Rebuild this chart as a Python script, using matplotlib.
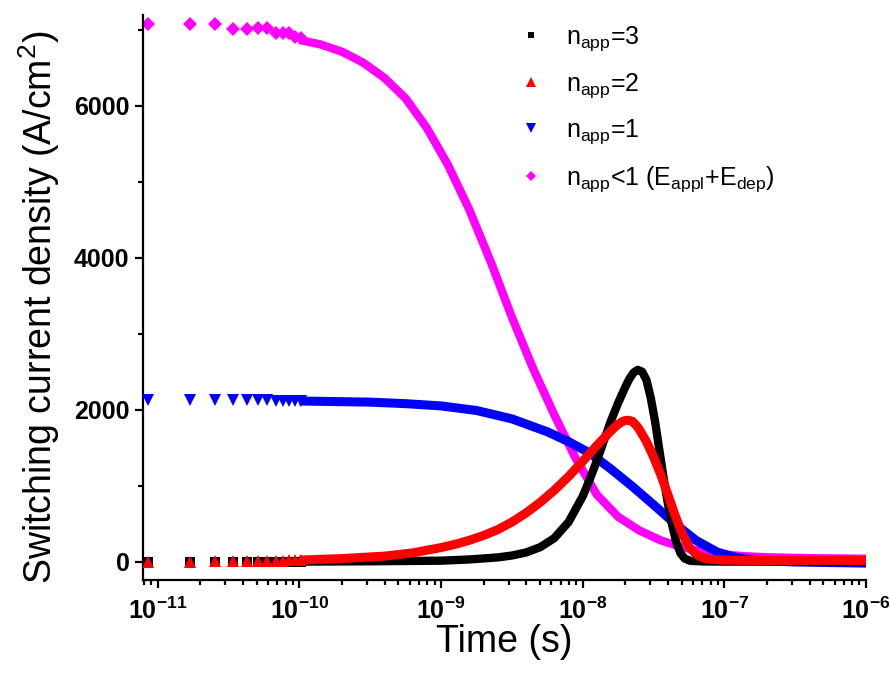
import math
import matplotlib
matplotlib.use("Agg")
import matplotlib.pyplot as plt
from matplotlib.lines import Line2D
from matplotlib.ticker import FixedLocator, FuncFormatter, NullFormatter

plt.rcParams['font.family'] = ['Liberation Sans', 'DejaVu Sans']
plt.rcParams['mathtext.fontset'] = 'custom'
plt.rcParams['mathtext.rm'] = 'Liberation Sans'
plt.rcParams['mathtext.it'] = 'Liberation Sans:italic'
plt.rcParams['mathtext.bf'] = 'Liberation Sans:bold'

# ------------------------------------------------------------------
# Data
# ------------------------------------------------------------------
# first simulation samples (drawn as separate markers)
t_early = [8.5e-12, 1.7e-11, 2.55e-11, 3.4e-11, 4.25e-11, 5.1e-11,
           5.95e-11, 6.8e-11, 7.65e-11, 8.5e-11, 9.35e-11, 1.02e-10]
black_early = [0, 0, 0, 0, 0, 0, 0, 0, 0, 0, 0, 0]
red_early = [0, 1, 2, 4, 6, 8, 10, 12, 14, 16, 18, 20]
blue_early = [2125, 2125, 2125, 2125, 2124, 2123, 2122, 2121, 2120, 2119, 2118, 2117]
mag_early = [7080, 7085, 7085, 7015, 7015, 7025, 7025, 6960, 6955, 6955, 6905, 6900]

# dense part (markers merge into a band)
t_black = [1.0e-10, 3.16e-10, 1.0e-9, 1.58e-9, 2.51e-9, 3.16e-9, 3.98e-9, 5.01e-9,
           6.31e-9, 7.94e-9, 1.0e-8, 1.12e-8, 1.26e-8, 1.41e-8, 1.58e-8, 1.78e-8,
           2.0e-8, 2.14e-8, 2.29e-8, 2.45e-8, 2.63e-8, 2.82e-8, 3.02e-8, 3.24e-8,
           3.47e-8, 3.72e-8, 3.98e-8, 4.27e-8, 4.57e-8, 4.9e-8, 5.25e-8, 5.75e-8,
           7.08e-8, 1.0e-7, 1.0e-6]
black = [0, 4, 12, 28, 55, 80, 120, 190, 310, 520, 860, 1080, 1330, 1590, 1850,
         2090, 2300, 2410, 2490, 2525, 2500, 2390, 2160, 1850, 1480, 1110, 780, 490,
         260, 110, 40, 10, 2, 0, 0]

t_red = [1.0e-10, 2.0e-10, 3.98e-10, 6.31e-10, 1.0e-9, 1.26e-9, 1.58e-9, 2.0e-9,
         2.51e-9, 3.16e-9, 3.98e-9, 5.01e-9, 6.31e-9, 7.94e-9, 1.0e-8, 1.26e-8,
         1.58e-8, 1.78e-8, 1.91e-8, 2.0e-8, 2.09e-8, 2.24e-8, 2.4e-8, 2.51e-8,
         2.82e-8, 3.16e-8, 3.55e-8, 3.98e-8, 4.47e-8, 5.01e-8, 5.62e-8, 6.31e-8,
         7.08e-8, 7.94e-8, 1.0e-7, 1.26e-7, 1.0e-6]
red = [20, 40, 72, 115, 185, 228, 280, 345, 420, 520, 640, 780, 940, 1120, 1320,
       1530, 1720, 1810, 1845, 1858, 1862, 1848, 1790, 1740, 1580, 1380, 1150, 890,
       620, 380, 200, 95, 48, 30, 20, 16, 15]

t_blue = [1.0e-10, 3.16e-10, 5.62e-10, 1.0e-9, 1.78e-9, 3.16e-9, 5.62e-9, 7.94e-9,
          1.12e-8, 1.58e-8, 2.24e-8, 3.16e-8, 4.47e-8, 6.31e-8, 8.91e-8, 1.26e-7,
          1.78e-7, 3.16e-7, 1.0e-6]
blue = [2115, 2100, 2080, 2050, 1990, 1880, 1710, 1580, 1430, 1220, 990, 750, 500,
        280, 125, 45, 12, -5, -20]

t_mag = [1.0e-10, 1.41e-10, 2.0e-10, 2.82e-10, 3.98e-10, 5.62e-10, 7.94e-10,
         1.12e-9, 1.58e-9, 2.24e-9, 3.16e-9, 4.47e-9, 6.31e-9, 8.91e-9, 1.26e-8,
         1.78e-8, 2.51e-8, 3.55e-8, 5.01e-8, 7.08e-8, 1.0e-7, 1.41e-7, 2.0e-7,
         3.98e-7, 1.0e-6]
mag = [6870, 6810, 6714, 6570, 6370, 6100, 5710, 5222, 4637, 3950, 3220, 2540,
       1930, 1360, 880, 590, 410, 280, 190, 130, 92, 70, 57, 45, 38]

labels = [r'n$_{\mathrm{app}}$=3', r'n$_{\mathrm{app}}$=2', r'n$_{\mathrm{app}}$=1',
          r'n$_{\mathrm{app}}$<1 (E$_{\mathrm{appl}}$+E$_{\mathrm{dep}}$)']

x_major = [1e-11, 1e-10, 1e-9, 1e-8, 1e-7, 1e-6]
y_major = [0, 2000, 4000, 6000]
y_minor = [1000, 3000, 5000, 7000]

# ------------------------------------------------------------------
fig = plt.figure(figsize=(8.9, 6.75), dpi=100)
ax = fig.add_axes([0.161, 0.141, 0.812, 0.837])

# (early values, t, values, color, marker, markersize, linewidth, zorder)
series = [
    (mag_early, t_mag, mag, '#ff00ff', 'D', 7.0, 6.0, 2),
    (blue_early, t_blue, blue, '#0000ff', 'v', 8.5, 6.5, 3),
    (black_early, t_black, black, '#000000', 's', 7.0, 6.0, 4),
    (red_early, t_red, red, '#ff0000', '^', 8.5, 6.5, 5),
]
for v_early, tt, vv, color, mk, ms, lw, z in series:
    ax.plot(t_early, v_early, linestyle='none', marker=mk, ms=ms, color=color,
            markeredgewidth=0, zorder=z)
    ax.plot(tt, vv, '-', color=color, lw=lw, solid_joinstyle='round',
            solid_capstyle='butt', zorder=z)

ax.set_xscale('log')
ax.set_xlim(7.9e-12, 1e-6)
ax.set_ylim(-240, 7200)

x_minor = [m * d for d in [1e-12, 1e-11, 1e-10, 1e-9, 1e-8, 1e-7] for m in range(2, 10)]
ax.xaxis.set_major_locator(FixedLocator(x_major))
ax.xaxis.set_minor_locator(FixedLocator(x_minor))
ax.xaxis.set_minor_formatter(NullFormatter())
ax.xaxis.set_major_formatter(FuncFormatter(
    lambda v, p: r'$\mathbf{10^{%d}}$' % round(math.log10(v))))
ax.yaxis.set_major_locator(FixedLocator(y_major))
ax.yaxis.set_minor_locator(FixedLocator(y_minor))

for s in ['top', 'right']:
    ax.spines[s].set_visible(False)
for s in ['left', 'bottom']:
    ax.spines[s].set_linewidth(1.6)

ax.tick_params(which='major', direction='out', length=6, width=1.6, labelsize=18)
ax.tick_params(axis='x', which='major', pad=7)
ax.tick_params(axis='y', which='major', pad=4)
ax.tick_params(which='minor', direction='out', length=3.5, width=1.6)
for lab in ax.get_yticklabels():
    lab.set_fontweight('bold')

ax.set_xlabel('Time (s)', fontsize=27, labelpad=0)
ax.set_ylabel(r'Switching current density (A/cm$^{2}$)', fontsize=27)
ax.yaxis.set_label_coords(-0.112, 0.483)

handles = [
    Line2D([], [], ls='none', marker='s', ms=5, color='#000000', mew=0),
    Line2D([], [], ls='none', marker='^', ms=7, color='#ff0000', mew=0),
    Line2D([], [], ls='none', marker='v', ms=7, color='#0000ff', mew=0),
    Line2D([], [], ls='none', marker='D', ms=5, color='#ff00ff', mew=0),
]
ax.legend(handles, labels, loc='upper left', bbox_to_anchor=(0.499, 1.010),
          frameon=False, fontsize=18, handlelength=1.0, handletextpad=0.9,
          labelspacing=0.72, borderaxespad=0.2)

fig.savefig('out.png', dpi=100)
